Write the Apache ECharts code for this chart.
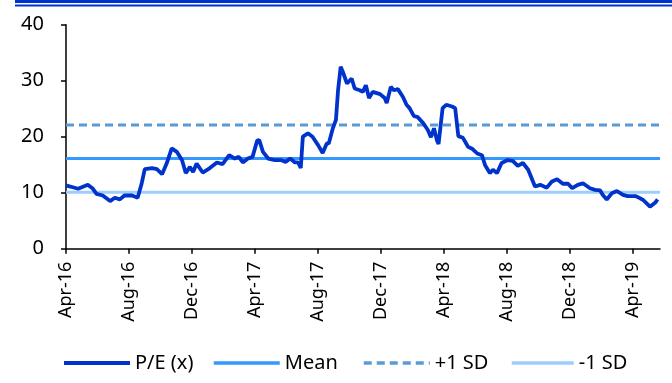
<!DOCTYPE html>
<html>
<head>
<meta charset="utf-8">
<script src="https://cdn.jsdelivr.net/npm/echarts@6/dist/echarts.min.js"></script>
<style>
  html, body { margin: 0; padding: 0; background: #fff; }
  #chart { width: 672px; height: 383px; }
</style>
</head>
<body>
<div id="chart"></div>
<script>
// P/E readings (approximate)
const peDates = [
  "2016-04-01","2016-04-09","2016-04-24","2016-05-13","2016-05-22","2016-05-30","2016-06-11","2016-06-25",
  "2016-07-04","2016-07-14","2016-07-23","2016-08-07","2016-08-18","2016-08-26","2016-09-01","2016-09-15",
  "2016-09-24","2016-10-04","2016-10-13","2016-10-23","2016-11-02","2016-11-12","2016-11-19","2016-11-27",
  "2016-12-03","2016-12-10","2016-12-22","2017-01-05","2017-01-19","2017-01-30","2017-02-11","2017-02-21",
  "2017-02-28","2017-03-08","2017-03-18","2017-03-27","2017-04-05","2017-04-09","2017-04-16","2017-04-26",
  "2017-05-09","2017-05-22","2017-05-30","2017-06-08","2017-06-17","2017-06-23","2017-06-28","2017-07-02",
  "2017-07-12","2017-07-21","2017-08-01","2017-08-10","2017-08-18","2017-08-22","2017-08-30","2017-09-05",
  "2017-09-09","2017-09-14","2017-09-18","2017-09-26","2017-10-05","2017-10-11","2017-10-21","2017-10-27",
  "2017-11-02","2017-11-08","2017-11-15","2017-11-29","2017-12-08","2017-12-12","2017-12-20","2017-12-26",
  "2018-01-03","2018-01-13","2018-01-20","2018-01-26","2018-02-03","2018-02-10","2018-02-20","2018-02-28",
  "2018-03-06","2018-03-12","2018-03-18","2018-03-21","2018-03-29","2018-04-05","2018-04-16","2018-04-22",
  "2018-04-28","2018-05-07","2018-05-17","2018-05-26","2018-06-04","2018-06-13","2018-06-19","2018-06-28",
  "2018-07-04","2018-07-12","2018-07-21","2018-08-01","2018-08-12","2018-08-22","2018-09-01","2018-09-11",
  "2018-09-24","2018-10-04","2018-10-17","2018-10-27","2018-11-06","2018-11-17","2018-11-27","2018-12-05",
  "2018-12-16","2018-12-26","2019-01-09","2019-01-19","2019-01-29","2019-02-03","2019-02-10","2019-02-19",
  "2019-02-28","2019-03-12","2019-03-21","2019-04-05","2019-04-10","2019-04-20","2019-05-03","2019-05-13",
  "2019-05-18"
];
const peValues = [
  11.3, 11.1, 10.7, 11.4, 10.8, 9.8, 9.5, 8.5,
  9.1, 8.8, 9.5, 9.5, 9.1, 11.7, 14.2, 14.4,
  14.2, 13.3, 15.2, 17.9, 17.3, 15.8, 13.5, 14.6,
  13.7, 15.2, 13.6, 14.4, 15.4, 15.1, 16.7, 16.1,
  16.4, 15.4, 16.1, 16.4, 19.3, 19.4, 17.3, 16.1,
  15.8, 15.8, 15.5, 16.1, 15.4, 15.4, 14.4, 20.0,
  20.6, 20.0, 18.5, 17.1, 18.8, 18.8, 21.5, 23.0,
  28.3, 32.5, 31.6, 29.5, 30.4, 28.6, 28.3, 28.0,
  29.2, 26.9, 28.0, 27.6, 26.9, 26.0, 28.9, 28.3,
  28.5, 27.1, 25.7, 25.1, 23.7, 23.5, 22.4, 21.2,
  19.9, 21.5, 19.3, 18.7, 25.1, 25.7, 25.4, 25.1,
  20.1, 19.8, 18.2, 17.8, 17.0, 16.7, 14.9, 13.5,
  14.1, 13.5, 15.3, 15.8, 15.7, 14.8, 15.3, 14.1,
  11.1, 11.4, 10.9, 12.0, 12.4, 11.6, 11.6, 10.8,
  11.4, 11.7, 10.8, 10.5, 10.4, 9.6, 8.8, 9.9,
  10.3, 9.6, 9.4, 9.4, 9.2, 8.7, 7.5, 8.2,
  8.8
];
const meanPE = 16.1;
const plusOneSD = 22.1;
const minusOneSD = 10.1;
const tickLabels = ["Apr-16","Aug-16","Dec-16","Apr-17","Aug-17","Dec-17","Apr-18","Aug-18","Dec-18","Apr-19"];
const yTicks = [0, 10, 20, 30, 40];
const legendNames = ["P/E (x)", "Mean", "+1 SD", "-1 SD"];

// months elapsed since 1 Apr 2016
function monthIndex(s) {
  const [y, m, d] = s.split("-").map(Number);
  const dim = new Date(y, m, 0).getDate();
  return (y - 2016) * 12 + (m - 4) + (d - 1) / dim;
}

const xEnd = 37.7;
const tickPos = tickLabels.map((_, i) => i * 4);
const peData = peDates.map((d, i) => [monthIndex(d), peValues[i]]);
const flat = (v) => [[0, v], [xEnd, v]];

const FONT = "Noto Sans";
const legendLeft = [62, 212, 362, 510];
const legendWidths = [66, 66, 66, 62];

const chart = echarts.init(document.getElementById("chart"), null, { renderer: "canvas" });

chart.setOption({
  animation: false,
  textStyle: { fontFamily: FONT },
  graphic: [
    { type: "rect", shape: { x: 15, y: 0, width: 657, height: 3 }, style: { fill: "#0033cc" } },
    { type: "rect", shape: { x: 15, y: 4.5, width: 657, height: 2 }, style: { fill: "#0033cc" } }
  ],
  grid: { left: 66, right: 12, top: 24.7, bottom: 134.3, containLabel: false },
  legend: legendNames.map((name, i) => ({
    left: legendLeft[i],
    top: 353,
    padding: 0,
    itemWidth: legendWidths[i],
    itemHeight: 14,
    itemStyle: { opacity: 0 },
    lineStyle: { width: i === 0 ? 4 : 3.5 },
    textStyle: { fontFamily: FONT, fontSize: 20, color: "#000" },
    data: [name]
  })),
  xAxis: {
    type: "value",
    min: 0,
    max: xEnd,
    splitLine: { show: false },
    axisLine: { lineStyle: { color: "#000", width: 1.5 } },
    axisTick: { customValues: tickPos, length: 5, lineStyle: { color: "#000", width: 1.5 } },
    axisLabel: {
      customValues: tickPos,
      rotate: 90,
      margin: 13,
      fontSize: 18,
      color: "#000",
      fontFamily: FONT,
      formatter: (v) => tickLabels[Math.round(v / 4)] || ""
    }
  },
  yAxis: {
    type: "value",
    min: 0,
    max: 40,
    interval: 10,
    splitLine: { show: false },
    axisLine: { show: true, lineStyle: { color: "#000", width: 1.5 } },
    axisTick: { show: true, length: 5, lineStyle: { color: "#000", width: 1.5 } },
    axisLabel: { margin: 22, fontSize: 20, color: "#000", fontFamily: FONT,
      formatter: (v) => (yTicks.includes(v) ? String(v) : "") }
  },
  series: [
    {
      name: "-1 SD", type: "line", data: flat(minusOneSD), symbol: "none", z: 1,
      lineStyle: { color: "#9fcdfb", width: 3 }, itemStyle: { color: "#9fcdfb" }
    },
    {
      name: "Mean", type: "line", data: flat(meanPE), symbol: "none", z: 1,
      lineStyle: { color: "#3399ff", width: 3 }, itemStyle: { color: "#3399ff" }
    },
    {
      name: "+1 SD", type: "line", data: flat(plusOneSD), symbol: "none", z: 1,
      lineStyle: { color: "#5b9bd5", width: 3, type: [8, 5] }, itemStyle: { color: "#5b9bd5" }
    },
    {
      name: "P/E (x)", type: "line", data: peData, symbol: "none", z: 3,
      lineStyle: { color: "#0033cc", width: 3.8 }, itemStyle: { color: "#0033cc" }
    }
  ]
});
</script>
</body>
</html>
